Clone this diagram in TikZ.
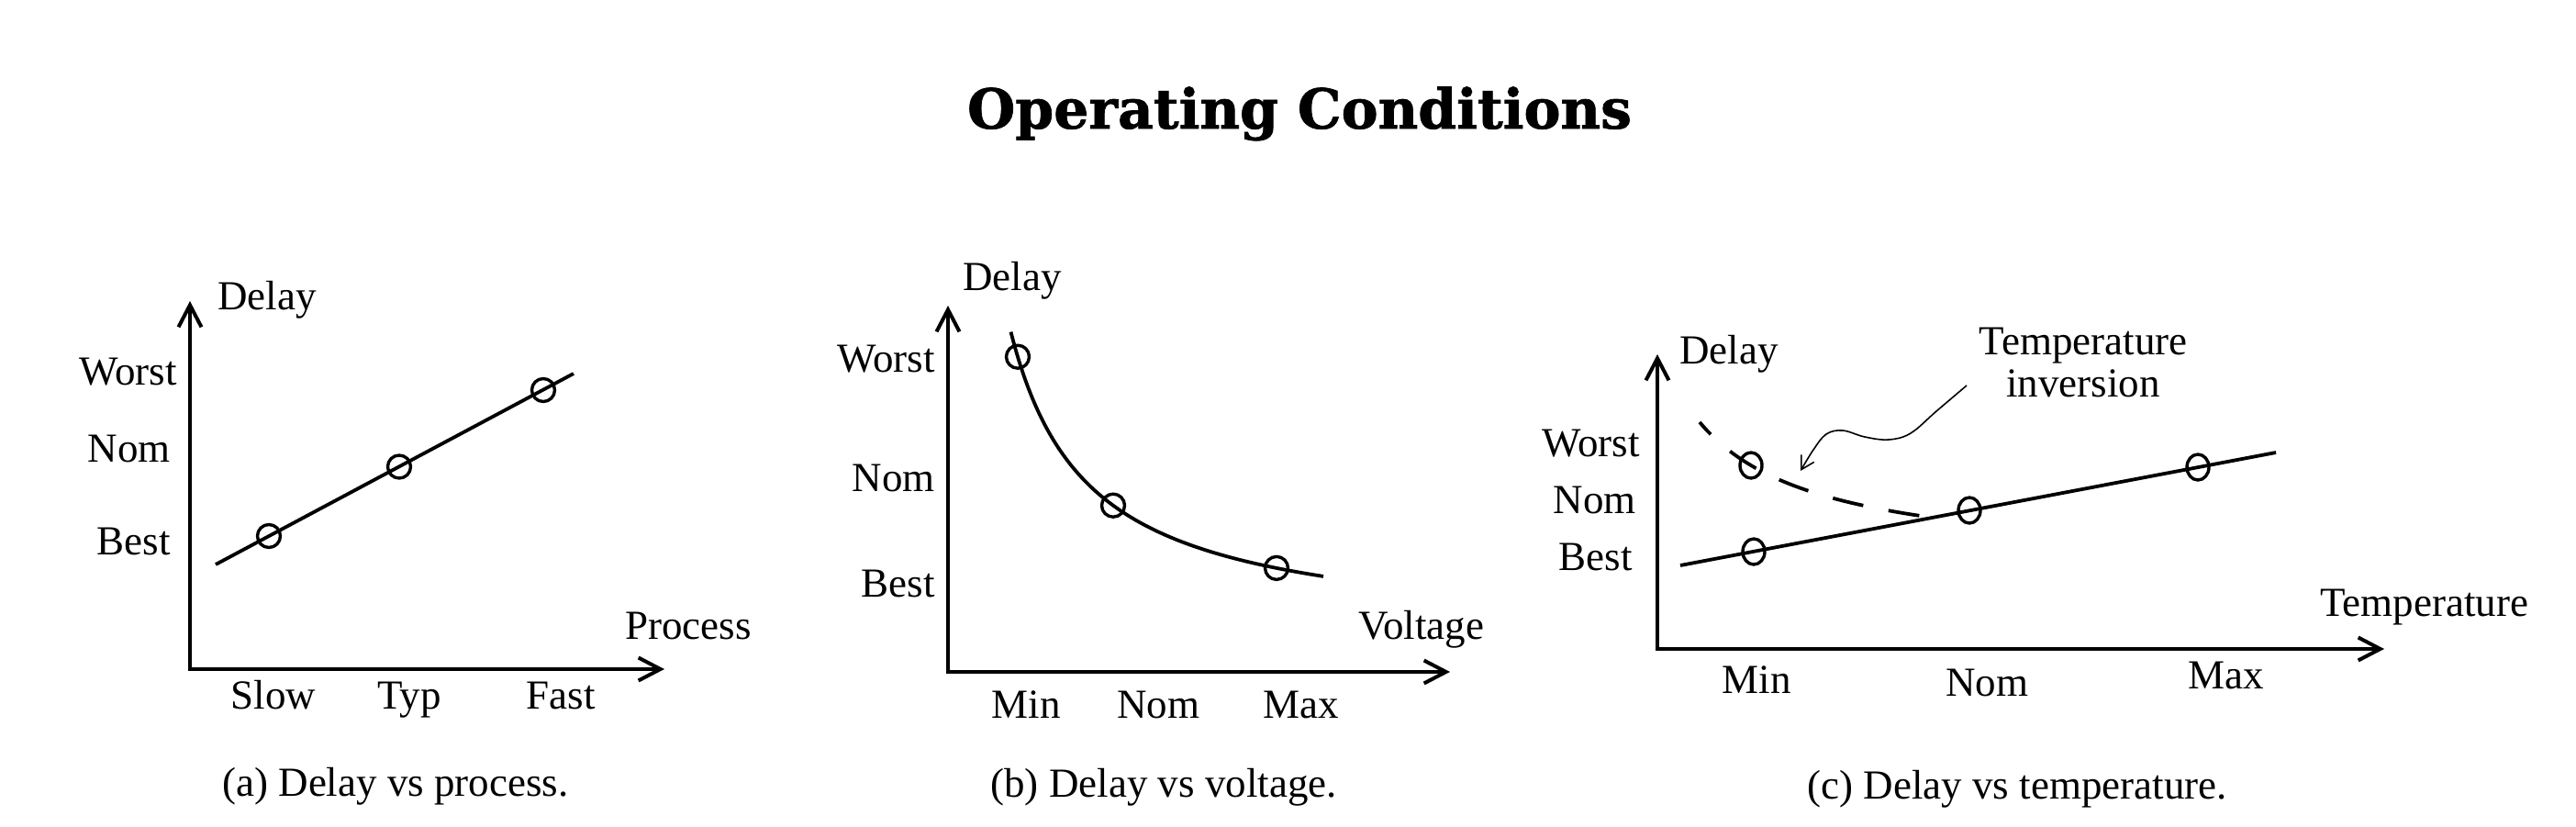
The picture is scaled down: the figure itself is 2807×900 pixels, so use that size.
\documentclass[tikz,border=0pt]{standalone}
\usepackage{fontspec}
\setmainfont{Liberation Serif}
\newfontfamily\titlefont[BoldFeatures={FakeBold=1.2}]{DejaVu Serif}
\usetikzlibrary{arrows.meta,shapes.geometric}
\begin{document}
\begin{tikzpicture}[x=0.5pt,y=-0.5pt,
  lbl/.style={inner sep=0pt, font=\fontsize{22.5pt}{23pt}\selectfont},
  axis/.style={line width=2pt, line join=miter,
    {Straight Barb[length=12pt,width=12.5pt]}-{Straight Barb[length=12pt,width=12.5pt]}},
  dline/.style={line width=1.9pt},
  dot/.style={circle, draw, line width=1.7pt, minimum size=12.5pt, inner sep=0pt},
  edot/.style={ellipse, draw, line width=1.7pt, minimum width=12pt, minimum height=14pt, inner sep=0pt},
  thin arrow/.style={line width=0.8pt, -{Straight Barb[length=7pt,width=8pt]}}
]
\useasboundingbox (0,0) rectangle (2807,900);

% title
\node[inner sep=0pt, anchor=base, font=\titlefont\bfseries\fontsize{30pt}{34pt}\selectfont] (title) at (1416,140) {Operating Conditions};

% ---------------- panel (a) ----------------
\coordinate (aO) at (207,729);
\coordinate (aY) at (207,328);
\coordinate (aX) at (724,729);
\draw[axis] (aY) -- (aO) -- (aX);
\coordinate (aL1) at (235,615);
\coordinate (aL2) at (625,407);
\draw[dline] (aL1) -- (aL2);
\node[dot] (a1) at (293,584) {};
\node[dot] (a2) at (435,508.5) {};
\node[dot] (a3) at (592,425) {};
\node[lbl, anchor=base west] (aDelay) at (237,337) {Delay};
\node[lbl, anchor=base east] (aWorst) at (193,419) {Worst};
\node[lbl, anchor=base east] (aNom) at (186,503) {Nom};
\node[lbl, anchor=base east] (aBest) at (186,604) {Best};
\node[lbl, anchor=base] (aSlow) at (298,772) {Slow};
\node[lbl, anchor=base] (aTyp) at (446,772) {Typ};
\node[lbl, anchor=base] (aFast) at (611,772) {Fast};
\node[lbl, anchor=base west] (aProc) at (681,696) {Process};
\node[lbl, anchor=base] (aCap) at (431,867) {(a) Delay vs process.};

% ---------------- panel (b) ----------------
\coordinate (bO) at (1033,732);
\coordinate (bY) at (1033,333);
\coordinate (bX) at (1580,732);
\draw[axis] (bY) -- (bO) -- (bX);
\draw[dline] plot[domain=1101.5:1442, samples=90, smooth] (\x, {694-280.86/((\x-1017)/100)});
\node[dot] (b1) at (1109,388.7) {};
\node[dot] (b2) at (1213,550.7) {};
\node[dot] (b3) at (1391,618.9) {};
\node[lbl, anchor=base west] (bDelay) at (1049,316) {Delay};
\node[lbl, anchor=base east] (bWorst) at (1019,405) {Worst};
\node[lbl, anchor=base east] (bNom) at (1019,535) {Nom};
\node[lbl, anchor=base east] (bBest) at (1019,650) {Best};
\node[lbl, anchor=base] (bMin) at (1118,782) {Min};
\node[lbl, anchor=base] (bNomx) at (1262,782) {Nom};
\node[lbl, anchor=base] (bMax) at (1418,782) {Max};
\node[lbl, anchor=base west] (bVolt) at (1480,696) {Voltage};
\node[lbl, anchor=base] (bCap) at (1268,868) {(b) Delay vs voltage.};

% ---------------- panel (c) ----------------
\coordinate (cO) at (1806,707);
\coordinate (cY) at (1806,386);
\coordinate (cX) at (2598,707);
\draw[axis] (cY) -- (cO) -- (cX);
\coordinate (cL1) at (1831,616);
\coordinate (cL2) at (2480,493);
\draw[dline] (cL1) -- (cL2);
\draw[dline, dash pattern=on 17pt off 14pt, dash phase=8pt]
  plot[domain=1852:2100, samples=60, smooth] (\x, {618-208.67/((\x-1720)/100)});
\node[edot] (c0) at (1908,507) {};
\node[edot] (c1) at (1911,601) {};
\node[edot] (c2) at (2146,556) {};
\node[edot] (c3) at (2395,509) {};
\node[lbl, anchor=base west] (cDelay) at (1830,396) {Delay};
\node[lbl, anchor=north, align=center] (cInv) at (2270,357) {Temperature\\inversion};
\draw[thin arrow] plot[smooth, tension=0.6] coordinates {(2143,420) (2110,448) (2082,472) (2058,479) (2032,476) (2008,469) (1990,473) (1976,490) (1962,513)};
\node[lbl, anchor=base east] (cWorst) at (1787,497) {Worst};
\node[lbl, anchor=base east] (cNom) at (1783,559) {Nom};
\node[lbl, anchor=base east] (cBest) at (1779,621) {Best};
\node[lbl, anchor=base] (cMin) at (1914,755) {Min};
\node[lbl, anchor=base] (cNomx) at (2165,758) {Nom};
\node[lbl, anchor=base] (cMax) at (2426,750) {Max};
\node[lbl, anchor=base west] (cTemp) at (2528,671) {Temperature};
\node[lbl, anchor=base] (cCap) at (2198,870) {(c) Delay vs temperature.};
\end{tikzpicture}
\end{document}
